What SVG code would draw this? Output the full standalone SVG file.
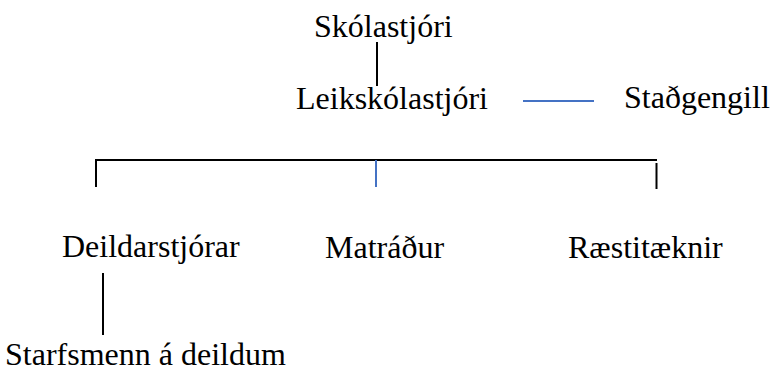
<svg xmlns="http://www.w3.org/2000/svg" width="772" height="372" viewBox="0 0 772 372">
<style>
text{font-family:'Liberation Serif','Times New Roman',Times,serif;font-size:32px;fill:#000}
.k{stroke:#000;stroke-width:2;fill:none}
.b{stroke:#4472C4;stroke-width:2;fill:none}
</style>
<rect width="772" height="372" fill="#fff"/>
<g id="connectors">
<line class="k" x1="377" y1="42" x2="377" y2="86" stroke-width="1.5"/>
<line class="b" x1="523" y1="101" x2="594" y2="101"/>
<path class="k" d="M96,187 V160 H657"/>
<line class="k" x1="656.5" y1="163" x2="656.5" y2="189"/>
<line class="b" x1="376" y1="160" x2="376" y2="187"/>
<line class="k" x1="103" y1="273" x2="103" y2="335"/>
</g>
<g id="skolastjori"><text font-family="Liberation Serif, serif" x="314" y="37">Skólastjóri</text></g>
<g id="leikskolastjori"><text font-family="Liberation Serif, serif" x="296" y="109">Leikskólastjóri</text></g>
<g id="stadgengill"><text font-family="Liberation Serif, serif" x="624" y="108">Staðgengill</text></g>
<g id="deildarstjorar"><text font-family="Liberation Serif, serif" x="62" y="257">Deildarstjórar</text></g>
<g id="matradur"><text font-family="Liberation Serif, serif" x="325" y="258">Matráður</text></g>
<g id="raestitaeknir"><text font-family="Liberation Serif, serif" x="568" y="258">Ræstitæknir</text></g>
<g id="starfsmenn"><text font-family="Liberation Serif, serif" x="5" y="365">Starfsmenn á deildum</text></g>
</svg>
